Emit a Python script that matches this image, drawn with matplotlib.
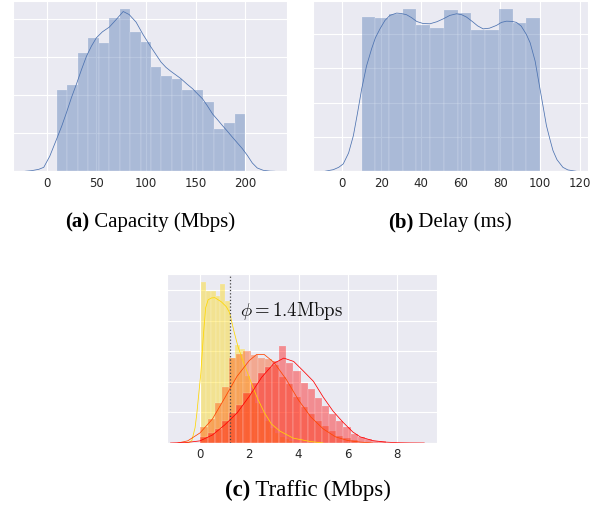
import matplotlib
matplotlib.use("Agg")
import matplotlib.pyplot as plt
import numpy as np
import seaborn as sns

# ---- (a) capacity, Mbps: 18 bins from 10 to 200, density x 1000
cap_range = (10, 200)
cap_hist = [4.29, 4.52, 6.22, 6.99, 6.76, 8.06, 8.53, 7.29, 6.81, 5.50,
            4.99, 4.87, 4.26, 4.26, 3.64, 2.24, 2.52, 2.99]
cap_kde_x = [-22, -15, -8, -3, 3, 10, 15, 20, 25, 30, 35, 40, 45, 50, 56, 63, 70, 77,
             83, 90, 97, 104, 110, 115, 120, 125, 130, 135, 141, 147, 152, 157, 162,
             167, 172, 177, 182, 187, 192, 197, 202, 207, 212, 218, 225, 230]
cap_kde_y = [0, 0.035, 0.105, 0.21, 0.788, 1.70, 2.36, 3.10, 3.89, 4.59, 5.34, 6.04,
             6.57, 7.01, 7.32, 7.57, 7.97, 8.39, 8.23, 7.83, 7.18, 6.60, 6.13, 5.74,
             5.46, 5.25, 5.06, 4.87, 4.59, 4.33, 4.06, 3.80, 3.42, 3.01, 2.71, 2.40,
             2.10, 1.79, 1.49, 1.19, 0.84, 0.44, 0.175, 0.053, 0.009, 0]

# ---- (b) delay, ms: 13 bins from 10 to 100, density x 1000
delay_range = (10, 100)
delay_hist = [11.21, 11.14, 11.48, 11.84, 10.65, 10.43, 11.77, 11.50, 10.29,
              10.29, 11.84, 10.82, 11.14]
delay_kde_x = [-8.5, -4.2, -1.5, 0.8, 3.5, 5.9, 8, 10.1, 12.5, 15.1, 17, 19.3, 21.8,
               24.3, 27.7, 30, 32.7, 35.3, 37.8, 41, 44.5, 48, 51.2, 54.5, 57.9, 60.5,
               62.9, 66, 68.5, 71.3, 74.5, 78, 80.5, 83.1, 86, 88.1, 90.5, 93.1, 95,
               97.5, 99.8, 101.5, 103.2, 105, 106.5, 108.5, 111.5, 114, 118.3]
delay_kde_y = [0, 0.12, 0.29, 0.54, 1.34, 2.60, 4.26, 6.01, 7.66, 8.93, 9.73, 10.38,
               10.99, 11.36, 11.53, 11.50, 11.41, 11.19, 10.92, 10.77, 10.75, 10.90,
               11.11, 11.36, 11.48, 11.41, 11.24, 10.90, 10.60, 10.38, 10.43, 10.63,
               10.85, 10.94, 10.92, 10.85, 10.58, 9.97, 9.36, 8.03, 6.13, 4.74, 3.33,
               2.31, 1.51, 0.85, 0.29, 0.10, 0]

# ---- (c) traffic, Mbps (density)
low_start, low_width = 0.03, 0.2
low_hist = [0.527, 0.497, 0.497, 0.481, 0.519, 0.465, 0.277, 0.322, 0.309, 0.221,
            0.169, 0.130, 0.098, 0.072, 0.049, 0.033, 0.020, 0.013, 0.007]
low_kde_x = [-0.6, -0.45, -0.33, -0.2, -0.13, 0.03, 0.14, 0.23, 0.33, 0.47, 0.6, 0.87,
             1.07, 1.2, 1.38, 1.54, 1.75, 1.95, 2.15, 2.35, 2.62, 2.9, 3.24, 3.78,
             4.46, 5.0]
low_kde_y = [0, 0.002, 0.008, 0.05, 0.095, 0.225, 0.355, 0.443, 0.469, 0.475, 0.476,
             0.462, 0.446, 0.427, 0.365, 0.316, 0.267, 0.225, 0.182, 0.143, 0.098,
             0.062, 0.039, 0.016, 0.005, 0]

mid_start, mid_width = 0.02, 0.29
mid_hist = [0.052, 0.078, 0.130, 0.182, 0.277, 0.293, 0.300, 0.287, 0.277, 0.274,
            0.257, 0.215, 0.192, 0.150, 0.117, 0.094, 0.072, 0.055, 0.039, 0.023,
            0.016, 0.010]
mid_kde_x = [-0.9, -0.5, 0, 0.5, 1.0, 1.5, 2.0, 2.3, 2.6, 3.0, 3.5, 4.0, 4.5, 5.0,
             5.5, 6.0, 6.5, 7.0]
mid_kde_y = [0, 0.007, 0.033, 0.078, 0.147, 0.218, 0.270, 0.290, 0.290, 0.264, 0.208,
             0.140, 0.085, 0.046, 0.020, 0.008, 0.003, 0]

high_start, high_width = 0.02, 0.29
high_hist = [0.020, 0.033, 0.046, 0.072, 0.098, 0.124, 0.163, 0.195, 0.228, 0.248,
             0.267, 0.316, 0.261, 0.235, 0.195, 0.176, 0.147, 0.121, 0.094, 0.072,
             0.052, 0.029, 0.020, 0.013, 0.008, 0.005]
high_kde_x = [-1.2, -0.5, 0, 0.5, 1.0, 1.5, 2.0, 2.5, 3.0, 3.4, 3.8, 4.2, 4.6, 5.0,
              5.4, 5.8, 6.2, 6.5, 7.0, 7.5, 8.0, 8.5, 9.1]
high_kde_y = [0, 0.002, 0.007, 0.026, 0.059, 0.098, 0.153, 0.215, 0.261, 0.278, 0.267,
              0.235, 0.202, 0.150, 0.104, 0.068, 0.036, 0.020, 0.008, 0.003, 0.001,
              0.0003, 0]

phi_line = 1.23
phi_label = r"$\phi = 1.4\mathrm{Mbps}$"

sns.set_style("darkgrid", {"grid.linewidth": 0.6})
plt.rcParams["font.family"] = ["DejaVu Sans"]

BLUE = "#4C72B0"


def draw_dist(ax, edges, heights, kde_x, kde_y, color):
    edges = np.asarray(edges, dtype=float)
    ax.bar(edges[:-1], heights, width=np.diff(edges), align="edge",
           color=color, alpha=0.4, edgecolor="white", linewidth=0.3)
    ax.plot(kde_x, kde_y, color=color, lw=0.55)


def style_axes(ax, xticks, xlim, ylim):
    ax.set_xticks(xticks)
    ax.set_xlim(*xlim)
    ax.set_ylim(*ylim)
    ax.tick_params(axis="y", labelleft=False, length=0)
    ax.tick_params(axis="x", labelsize=8.5, length=0, pad=3.2, labelcolor="#262626")


def caption(fig, xc, y, tag, rest, size):
    r = fig.canvas.get_renderer()
    kw = dict(family="Liberation Serif", size=size, va="baseline", ha="left", color="black")
    t1 = fig.text(0, y, tag, weight="bold", **kw)
    t2 = fig.text(0, y, rest, **kw)
    w1 = t1.get_window_extent(r).width / fig.bbox.width
    w2 = t2.get_window_extent(r).width / fig.bbox.width
    x0 = xc - (w1 + w2) / 2
    t1.set_x(x0)
    t2.set_x(x0 + w1)


W, H = 606, 506
fig = plt.figure(figsize=(W / 100, H / 100), dpi=100)

ax_a = fig.add_axes([13 / W, 1 - 172.3 / H, 274 / W, 170.6 / H])
ax_b = fig.add_axes([313.3 / W, 1 - 172.3 / H, 275 / W, 170.6 / H])
ax_c = fig.add_axes([166.7 / W, 1 - 444 / H, 270 / W, 169 / H])

cap_edges = np.linspace(cap_range[0], cap_range[1], len(cap_hist) + 1)
draw_dist(ax_a, cap_edges, cap_hist, cap_kde_x, cap_kde_y, BLUE)
style_axes(ax_a, [0, 50, 100, 150, 200], (-34, 242), (0, max(cap_hist) * 1.05))

delay_edges = np.linspace(delay_range[0], delay_range[1], len(delay_hist) + 1)
draw_dist(ax_b, delay_edges, delay_hist, delay_kde_x, delay_kde_y, BLUE)
style_axes(ax_b, [0, 20, 40, 60, 80, 100, 120], (-14.3, 124.3), (0, max(delay_hist) * 1.05))

for start, width, hist, kx, ky, col in [
    (low_start, low_width, low_hist, low_kde_x, low_kde_y, "gold"),
    (mid_start, mid_width, mid_hist, mid_kde_x, mid_kde_y, "orangered"),
    (high_start, high_width, high_hist, high_kde_x, high_kde_y, "red"),
]:
    edges = start + width * np.arange(len(hist) + 1)
    draw_dist(ax_c, edges, hist, kx, ky, col)
ax_c.axvline(phi_line, color="#444444", ls=":", lw=0.9)
ax_c.text(1.62, 0.435, phi_label, math_fontfamily="cm", fontsize=13.5,
          ha="left", va="center", color="#111111")
style_axes(ax_c, [0, 2, 4, 6, 8], (-1.35, 9.6), (0, max(low_hist) * 1.05))

caption(fig, 150 / W, 1 - 227 / H, "(a)", " Capacity (Mbps)", 15)
caption(fig, 450 / W, 1 - 227 / H, "(b)", " Delay (ms)", 15)
caption(fig, 308 / W, 1 - 496 / H, "(c)", " Traffic (Mbps)", 16.5)

fig.savefig("out.png", dpi=100)
